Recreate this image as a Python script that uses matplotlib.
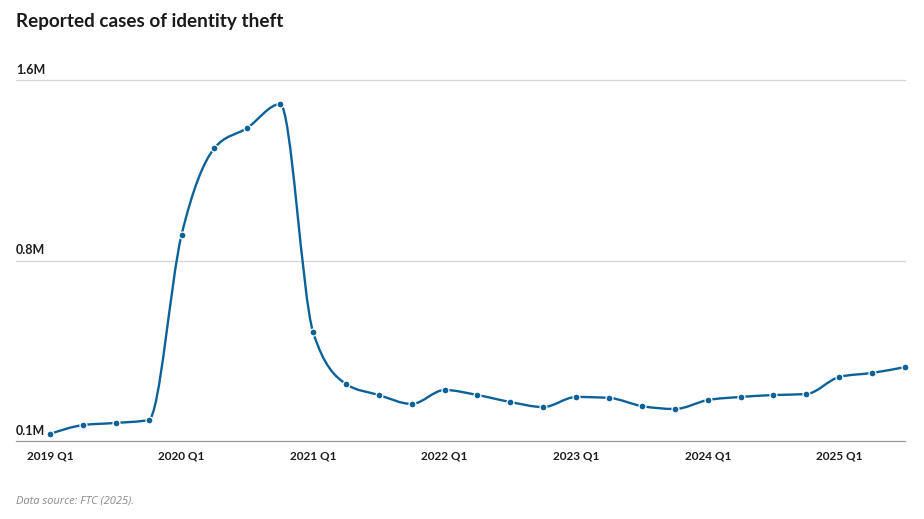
"""
Reported cases of identity theft, quarterly (FTC data).
Line chart with a monotone curve through the quarterly points.
"""

import numpy as np
from matplotlib import pyplot as plt
from matplotlib.path import Path
from matplotlib.patches import PathPatch

# Quarters from 2019 Q1 to 2025 Q3
quarters = ['2019 Q1', '2019 Q2', '2019 Q3', '2019 Q4',
            '2020 Q1', '2020 Q2', '2020 Q3', '2020 Q4',
            '2021 Q1', '2021 Q2', '2021 Q3', '2021 Q4',
            '2022 Q1', '2022 Q2', '2022 Q3', '2022 Q4',
            '2023 Q1', '2023 Q2', '2023 Q3', '2023 Q4',
            '2024 Q1', '2024 Q2', '2024 Q3', '2024 Q4',
            '2025 Q1', '2025 Q2', '2025 Q3']

# Reported cases [millions]
cases = [0.129, 0.166, 0.175, 0.187,
         0.956, 1.317, 1.401, 1.500,
         0.553, 0.337, 0.291, 0.254,
         0.312, 0.291, 0.262, 0.241,
         0.283, 0.279, 0.245, 0.233,
         0.270, 0.283, 0.291, 0.295,
         0.366, 0.383, 0.407]

# Axis range and labelled quarters
y_min, y_max = 0.1, 1.6
label_quarters = ['2019 Q1', '2020 Q1', '2021 Q1', '2022 Q1',
                  '2023 Q1', '2024 Q1', '2025 Q1']

line_color = '#0b6298'
text_color = '#1d1d1d'


def monotone_path(x, y):
    # Same curve as d3.curveMonotoneX: cubic Bezier segments
    x = np.asarray(x, float)
    y = np.asarray(y, float)
    h = np.diff(x)
    s = np.diff(y) / h
    t = np.zeros(len(x))
    for i in range(1, len(x) - 1):
        p = (s[i - 1] * h[i] + s[i] * h[i - 1]) / (h[i - 1] + h[i])
        t[i] = (np.sign(s[i - 1]) + np.sign(s[i])) * \
            min(abs(s[i - 1]), abs(s[i]), 0.5 * abs(p))
    t[0] = (3 * s[0] - t[1]) / 2
    t[-1] = (3 * s[-1] - t[-2]) / 2

    verts = [(x[0], y[0])]
    codes = [Path.MOVETO]
    for i in range(len(x) - 1):
        dx = h[i] / 3
        verts += [(x[i] + dx, y[i] + dx * t[i]),
                  (x[i + 1] - dx, y[i + 1] - dx * t[i + 1]),
                  (x[i + 1], y[i + 1])]
        codes += [Path.CURVE4] * 3
    return Path(verts, codes)


W, H = 924, 519
fig = plt.figure(figsize=(W / 100, H / 100), dpi=100)
ax = fig.add_axes([16 / W, 1 - 441 / H, (905 - 16) / W, (441 - 80) / H])

xs = np.arange(len(quarters))
ax.set_xlim(-34 / 32.9, len(quarters) - 1)
ax.set_ylim(y_min, y_max)

# Gridlines with labels sitting on them
ticks = np.linspace(y_min, y_max, 3)
for v in ticks:
    ax.axhline(v, color='#999999' if v == y_min else '#d4d4d4',
               lw=0.9, zorder=1, clip_on=False)
    ax.annotate('%.1fM' % v, xy=(0, v), xycoords=('axes fraction', 'data'),
                xytext=(0, 3), textcoords='offset points',
                ha='left', va='bottom', fontsize=9, fontweight='bold',
                color=text_color, family=['Lato', 'DejaVu Sans'])

# Curve and points
ax.add_patch(PathPatch(monotone_path(xs, cases), fill=False,
                       edgecolor=line_color, lw=1.7, zorder=3,
                       clip_on=False, capstyle='round'))
ax.plot(xs, cases, 'o', ms=5, color=line_color, mec='white', mew=0.9,
        zorder=4, clip_on=False)

# Formatting
ax.set_xticks([quarters.index(q) for q in label_quarters])
ax.set_xticklabels(label_quarters, fontsize=8.5, fontweight='bold',
                   color=text_color, family=['Lato', 'DejaVu Sans'])
ax.tick_params(axis='x', length=0, pad=7)
ax.set_yticks([])
for side in ax.spines.values():
    side.set_visible(False)

fig.text(16 / W, 1 - 22 / H, 'Reported cases of identity theft',
         ha='left', va='center', fontsize=13.6, fontweight='bold',
         color='#1a1a1a', family=['Lato', 'DejaVu Sans'])
fig.text(16 / W, 1 - 501 / H, 'Data source: FTC (2025).',
         ha='left', va='center', fontsize=8, style='italic',
         color='#8a8a8a', family=['Open Sans', 'DejaVu Sans'])

fig.savefig('out.png', dpi=100)
